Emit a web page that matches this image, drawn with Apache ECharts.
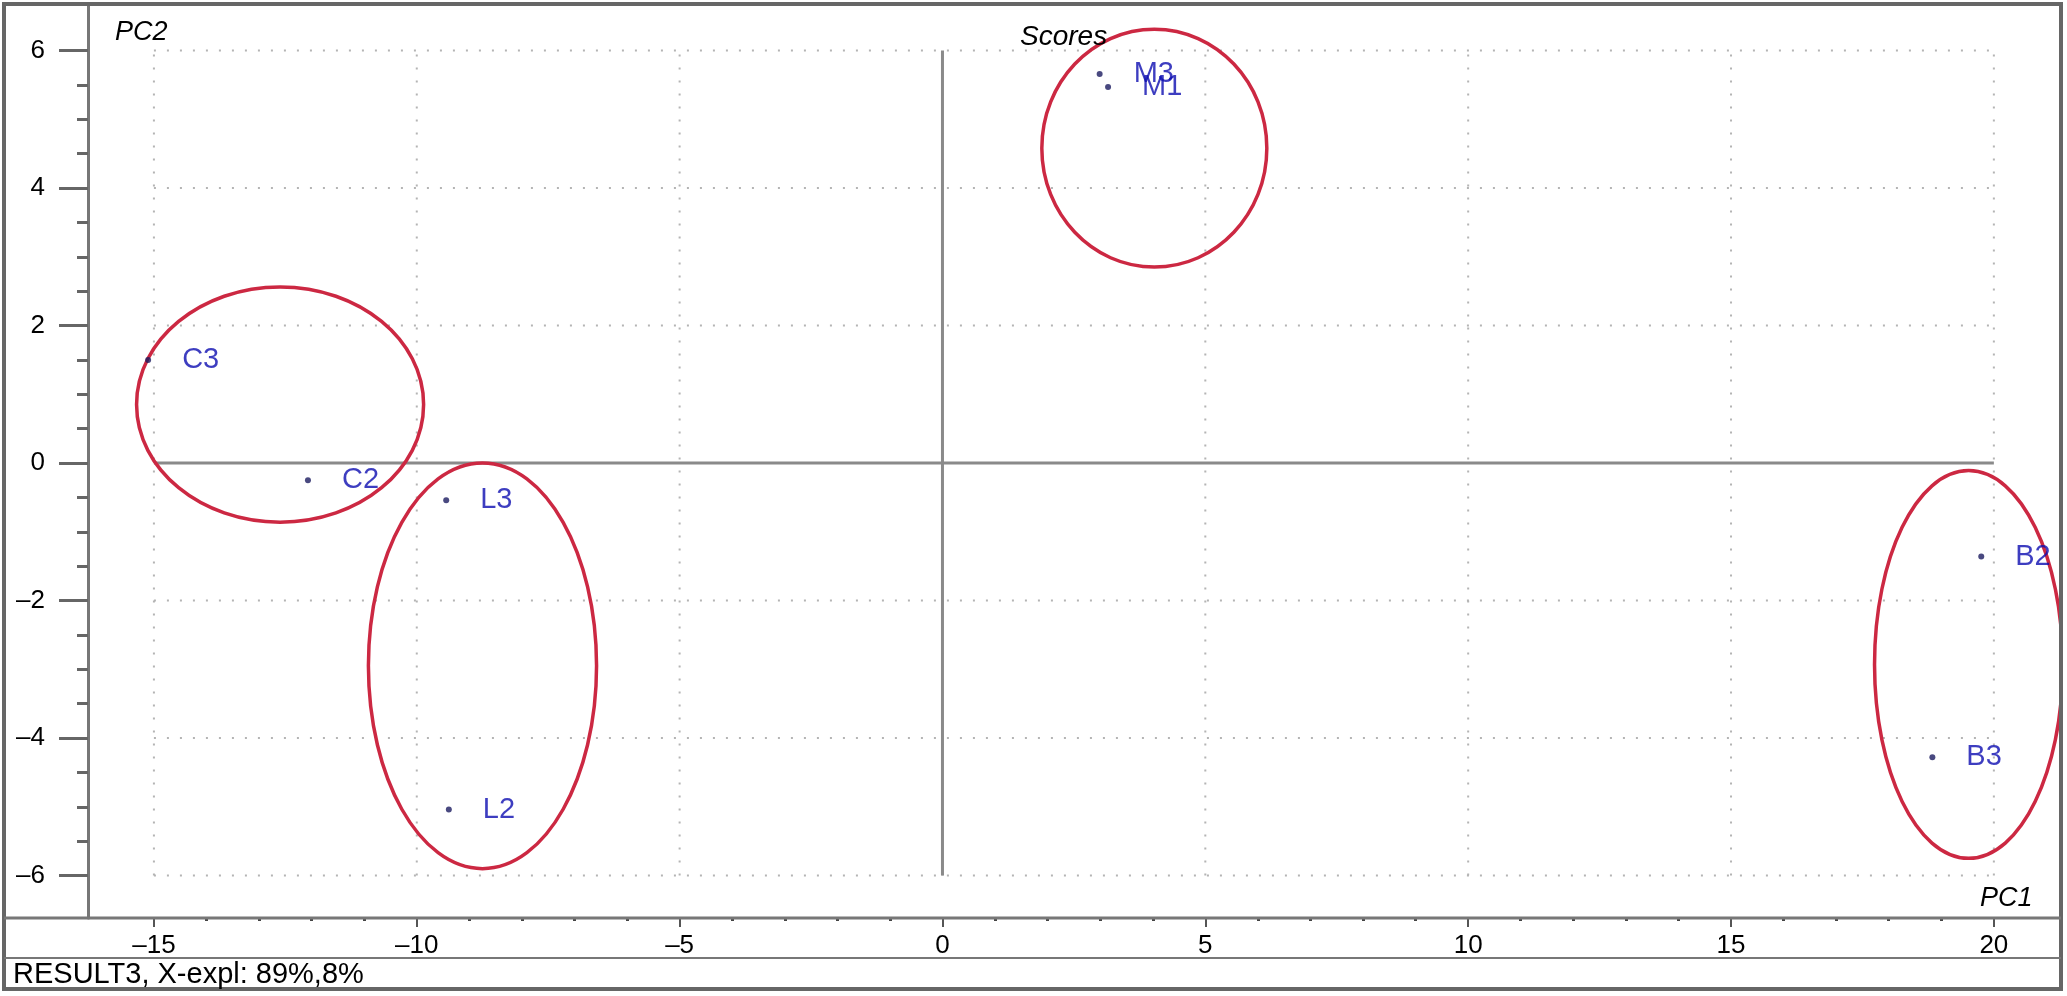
<!DOCTYPE html>
<html><head><meta charset="utf-8">
<script src="https://cdn.jsdelivr.net/npm/echarts@6/dist/echarts.min.js"></script>
<style>html,body{margin:0;padding:0;background:#fff}#c{width:2067px;height:996px}</style>
</head><body><div id="c"></div>
<script>
// ---- data ----
const sampleNames = ['M3', 'M1', 'C3', 'C2', 'L3', 'L2', 'B2', 'B3'];
const pc1Scores = [2.99, 3.15, -15.11, -12.07, -9.44, -9.39, 19.76, 18.83];
const pc2Scores = [5.66, 5.47, 1.50, -0.25, -0.54, -5.04, -1.36, -4.28];

const groupNames = ['M', 'C', 'L', 'B'];
const ellipseCx = [4.03, -12.6, -8.75, 19.52];
const ellipseCy = [4.58, 0.85, -2.95, -2.93];
const ellipseRx = [2.14, 2.73, 2.17, 1.79];
const ellipseRy = [1.73, 1.71, 2.95, 2.82];

const xTicks = [-15, -10, -5, 0, 5, 10, 15, 20];
const yTicks = [-6, -4, -2, 0, 2, 4, 6];
const xMinorTicks = [-14, -13, -12, -11, -9, -8, -7, -6, -4, -3, -2, -1, 1, 2, 3, 4, 6, 7, 8, 9, 11, 12, 13, 14, 16, 17, 18, 19];
const yMinorTicks = [-5.5, -5, -4.5, -3.5, -3, -2.5, -1.5, -1, -0.5, 0.5, 1, 1.5, 2.5, 3, 3.5, 4.5, 5, 5.5];

const xRange = [-16.254, 21.277];
const yRange = [-6.618, 6.662];

const titleText = 'Scores';
const xName = 'PC1';
const yName = 'PC2';
const footerText = 'RESULT3, X-expl: 89%,8%';

// ---- chart ----
const FONT = 'Liberation Sans';
const chart = echarts.init(document.getElementById('c'), null, { renderer: 'canvas' });
const dash = v => String(v).replace('-', '\u2013');

const scatterData = sampleNames.map((n, i) => ({ name: n, value: [pc1Scores[i], pc2Scores[i]] }));
const ellipseData = groupNames.map((g, i) => ({ name: g, value: [ellipseCx[i], ellipseCy[i], ellipseRx[i], ellipseRy[i]] }));

const xLo = xTicks[0], xHi = xTicks[xTicks.length - 1];
const yLo = yTicks[0], yHi = yTicks[yTicks.length - 1];

function lineSeries(data, isVertical, style, z) {
  return {
    type: 'custom', z: z, silent: true, clip: true,
    xAxisIndex: 0, yAxisIndex: 0,
    data: data,
    renderItem: function (params, api) {
      const v = api.value(0);
      const a = isVertical ? api.coord([v, yLo]) : api.coord([xLo, v]);
      const b = isVertical ? api.coord([v, yHi]) : api.coord([xHi, v]);
      return { type: 'line', shape: { x1: a[0], y1: a[1], x2: b[0], y2: b[1] }, style: style };
    }
  };
}

const gridStyle = { stroke: '#b4b4b4', lineWidth: 2, lineDash: [2, 11] };
const zeroStyle = { stroke: '#8a8a8a', lineWidth: 3 };

const option = {
  backgroundColor: '#ffffff',
  animation: false,
  grid: { left: 88, right: 6, top: 5, bottom: 78, containLabel: false },
  xAxis: [
    {
      type: 'value', position: 'bottom', min: xRange[0], max: xRange[1],
      axisLine: { show: false, onZero: false },
      axisTick: { show: true, customValues: xTicks, length: 9, lineStyle: { color: '#555', width: 2 } },
      axisLabel: { show: true, customValues: xTicks, formatter: dash, margin: 15, fontSize: 26, fontFamily: FONT, color: '#000' },
      splitLine: { show: false }
    },
    {
      type: 'value', position: 'bottom', min: xRange[0], max: xRange[1],
      axisLine: { show: false, onZero: false },
      axisTick: { show: true, customValues: xMinorTicks, length: 3, lineStyle: { color: '#444', width: 3 } },
      axisLabel: { show: false },
      splitLine: { show: false }
    }
  ],
  yAxis: [
    {
      type: 'value', position: 'left', min: yRange[0], max: yRange[1],
      axisLine: { show: true, onZero: false, lineStyle: { color: '#777', width: 3 } },
      axisTick: { show: true, customValues: yTicks, length: 29, lineStyle: { color: '#666', width: 3 } },
      axisLabel: { show: true, customValues: yTicks, formatter: dash, margin: 43, fontSize: 26, fontFamily: FONT, color: '#000' },
      splitLine: { show: false }
    },
    {
      type: 'value', position: 'left', min: yRange[0], max: yRange[1],
      axisLine: { show: false, onZero: false },
      axisTick: { show: true, customValues: yMinorTicks, length: 11, lineStyle: { color: '#666', width: 3 } },
      axisLabel: { show: false },
      splitLine: { show: false }
    }
  ],
  graphic: [
    { type: 'rect', z: 100, silent: true, shape: { x: 4, y: 4, width: 2057, height: 985 }, style: { fill: 'none', stroke: '#666', lineWidth: 4 } },
    { type: 'line', z: 100, silent: true, shape: { x1: 4, y1: 918, x2: 2061, y2: 918 }, style: { stroke: '#777', lineWidth: 3 } },
    { type: 'line', z: 100, silent: true, shape: { x1: 4, y1: 958, x2: 2061, y2: 958 }, style: { stroke: '#777', lineWidth: 2 } },
    { type: 'text', z: 100, silent: true, x: 1020, y: 37, style: { text: titleText, fontSize: 28, fontStyle: 'italic', fontFamily: FONT, fill: '#000', align: 'left', verticalAlign: 'middle' } },
    { type: 'text', z: 100, silent: true, x: 115, y: 32, style: { text: yName, fontSize: 27, fontStyle: 'italic', fontFamily: FONT, fill: '#000', align: 'left', verticalAlign: 'middle' } },
    { type: 'text', z: 100, silent: true, x: 1980, y: 898, style: { text: xName, fontSize: 27, fontStyle: 'italic', fontFamily: FONT, fill: '#000', align: 'left', verticalAlign: 'middle' } },
    { type: 'text', z: 100, silent: true, x: 13, y: 975, style: { text: footerText, fontSize: 29, fontFamily: FONT, fill: '#000', align: 'left', verticalAlign: 'middle' } }
  ],
  series: [
    lineSeries(xTicks, true, gridStyle, 1),
    lineSeries(yTicks, false, gridStyle, 1),
    lineSeries([0], true, zeroStyle, 2),
    lineSeries([0], false, zeroStyle, 2),
    {
      type: 'custom', z: 3, silent: true, clip: true,
      xAxisIndex: 0, yAxisIndex: 0,
      data: ellipseData,
      renderItem: function (params, api) {
        const c = api.coord([api.value(0), api.value(1)]);
        const s = api.size([api.value(2), api.value(3)]);
        return {
          type: 'ellipse',
          shape: { cx: c[0], cy: c[1], rx: s[0], ry: s[1] },
          style: { fill: 'none', stroke: '#cc2842', lineWidth: 3.5 }
        };
      }
    },
    {
      type: 'scatter', z: 4,
      xAxisIndex: 0, yAxisIndex: 0,
      data: scatterData,
      symbol: 'circle', symbolSize: 6,
      itemStyle: { color: '#1b1b60' },
      label: {
        show: true, position: 'right', distance: 31,
        formatter: p => p.name,
        fontSize: 29, fontFamily: FONT, color: '#0c0cb0'
      }
    }
  ]
};
chart.setOption(option);
</script>
</body></html>
